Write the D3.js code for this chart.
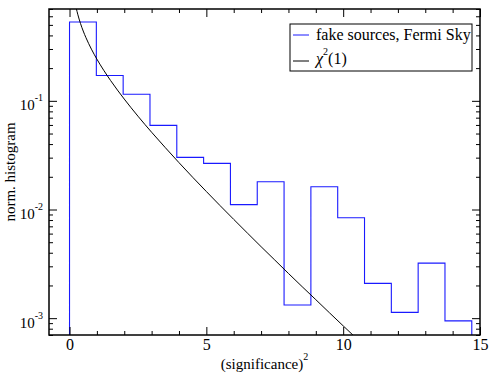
<!DOCTYPE html>
<html>
<head>
<meta charset="utf-8">
<script src="https://cdn.jsdelivr.net/npm/d3@7"></script>
<style>
  body { margin: 0; background: #fff; }
  svg { display: block; }
  svg text { font-family: "Liberation Serif", "Times New Roman", Times, "DejaVu Serif", serif; fill: #000; }
</style>
</head>
<body>
<svg id="chart" width="491" height="379"></svg>
<script>
// histogram bins (left edges + final right edge) and normalised counts
var binEdges = [0, 0.98, 1.96, 2.94, 3.92, 4.9, 5.88, 6.86, 7.84, 8.82, 9.8, 10.78, 11.76, 12.74, 13.72, 14.7];
var binValues = [0.532, 0.171, 0.115, 0.0594, 0.0302, 0.0266, 0.0111, 0.0180, 0.00132, 0.0162, 0.0084, 0.00209, 0.00113, 0.00321, 0.000944];

// chi^2(1) curve, sampled
var curveX = [0.2, 0.25, 0.3, 0.4, 0.5, 0.6, 0.8, 1, 1.25, 1.5, 2, 2.5, 3, 3.5, 4, 4.5, 5, 5.5, 6, 6.5, 7, 7.5, 8, 8.5, 9, 9.5, 10, 10.5];
var curveY = [0.807, 0.704, 0.627, 0.516, 0.439, 0.3815, 0.299, 0.242, 0.191, 0.1539, 0.1038, 0.0723, 0.0514, 0.0371, 0.0270, 0.0198, 0.01464, 0.01087, 0.00811, 0.00607, 0.00455, 0.00343, 0.00258, 0.00195, 0.00148, 0.00112, 0.00085, 0.000646];

var xMajor = [0, 5, 10, 15];
var xMinor = [1, 2, 3, 4, 6, 7, 8, 9, 11, 12, 13, 14];
var yMajor = [0.1, 0.01, 0.001];
var yExp = ['-1', '-2', '-3'];

var legendLabels = ['fake sources, Fermi Sky', 'χ'];

var svg = d3.select('#chart');
var width = 491, height = 379;
var margins = { top: 9, right: 11, bottom: 44, left: 49 };
var plotL = margins.left, plotR = width - margins.right;
var plotT = margins.top, plotB = height - margins.bottom;

var x = d3.scaleLinear().domain([-0.75, 15]).range([plotL, plotR]);
var y = d3.scaleLog().domain([7e-4, 0.7]).range([plotB, plotT]);

var yMinor = y.ticks().filter(function(v) {
  return yMajor.every(function(m) { return Math.abs(v / m - 1) > 1e-6; });
});

svg.append('defs').append('clipPath').attr('id', 'plotclip')
  .append('rect')
  .attr('x', plotL).attr('y', plotT)
  .attr('width', plotR - plotL).attr('height', plotB - plotT);

// histogram
var pts = [[binEdges[0], y.domain()[0]]];
binValues.forEach(function(v, i) {
  pts.push([binEdges[i], v]);
  pts.push([binEdges[i + 1], v]);
});
pts.push([binEdges[binEdges.length - 1], y.domain()[0]]);

var line = d3.line()
  .x(function(d) { return x(d[0]); })
  .y(function(d) { return y(d[1]); });

svg.append('path')
  .datum(pts)
  .attr('clip-path', 'url(#plotclip)')
  .attr('d', line)
  .attr('fill', 'none')
  .attr('stroke', '#1a1aff')
  .attr('stroke-width', 1.1);

// chi2 curve
var curvePts = curveX.map(function(v, i) { return [v, curveY[i]]; });
svg.append('path')
  .datum(curvePts)
  .attr('clip-path', 'url(#plotclip)')
  .attr('d', line.curve(d3.curveMonotoneX))
  .attr('fill', 'none')
  .attr('stroke', '#000')
  .attr('stroke-width', 1);

// axes: ticks pointing inward on all four sides
function styleAxis(g) {
  g.select('.domain').remove();
  g.attr('font-family', null);
  g.selectAll('.tick line').attr('stroke', '#000').attr('stroke-width', 1);
}

svg.append('g')
  .attr('transform', 'translate(0,' + plotB + ')')
  .call(d3.axisBottom(x).tickValues(xMajor).tickSize(-8).tickPadding(4).tickFormat(d3.format('d')))
  .call(styleAxis)
  .selectAll('text')
  .attr('font-size', '16px');

svg.append('g')
  .attr('transform', 'translate(0,' + plotB + ')')
  .call(d3.axisBottom(x).tickValues(xMinor).tickSize(-4).tickFormat(''))
  .call(styleAxis);

svg.append('g')
  .attr('transform', 'translate(0,' + plotT + ')')
  .call(d3.axisTop(x).tickValues(xMajor).tickSize(-8).tickFormat(''))
  .call(styleAxis);

svg.append('g')
  .attr('transform', 'translate(0,' + plotT + ')')
  .call(d3.axisTop(x).tickValues(xMinor).tickSize(-4).tickFormat(''))
  .call(styleAxis);

var yAxisG = svg.append('g')
  .attr('transform', 'translate(' + plotL + ',0)')
  .call(d3.axisLeft(y).tickValues(yMajor).tickSize(-8).tickPadding(6))
  .call(styleAxis);

yAxisG.selectAll('.tick text')
  .text('')
  .attr('font-size', '15px')
  .attr('dy', '0.6em')
  .each(function(d, i) {
    var t = d3.select(this);
    t.append('tspan').text('10');
    t.append('tspan').attr('font-size', '10px').attr('dy', '-0.9em').text(yExp[i]);
  });

svg.append('g')
  .attr('transform', 'translate(' + plotL + ',0)')
  .call(d3.axisLeft(y).tickValues(yMinor).tickSize(-4).tickFormat(''))
  .call(styleAxis);

svg.append('g')
  .attr('transform', 'translate(' + plotR + ',0)')
  .call(d3.axisRight(y).tickValues(yMajor).tickSize(-8).tickFormat(''))
  .call(styleAxis);

svg.append('g')
  .attr('transform', 'translate(' + plotR + ',0)')
  .call(d3.axisRight(y).tickValues(yMinor).tickSize(-4).tickFormat(''))
  .call(styleAxis);

// frame
svg.append('rect')
  .attr('x', plotL).attr('y', plotT)
  .attr('width', plotR - plotL).attr('height', plotB - plotT)
  .attr('fill', 'none')
  .attr('stroke', '#000')
  .attr('stroke-width', 1.5);

// axis titles
var xt = svg.append('text')
  .attr('x', (plotL + plotR) / 2)
  .attr('y', 369)
  .attr('text-anchor', 'middle')
  .attr('font-size', '15px');
xt.append('tspan').text('(significance)');
xt.append('tspan').attr('font-size', '10px').attr('dy', '-0.9em').text('2');

svg.append('text')
  .attr('transform', 'translate(15,' + ((plotT + plotB) / 2) + ') rotate(-90)')
  .attr('text-anchor', 'middle')
  .attr('font-size', '15px')
  .text('norm. histogram');

// legend
var lg = svg.append('g').attr('transform', 'translate(290,24)');
lg.append('rect')
  .attr('width', 182).attr('height', 47)
  .attr('fill', '#fff')
  .attr('stroke', '#000')
  .attr('stroke-width', 1);

lg.append('line')
  .attr('x1', 3).attr('x2', 19).attr('y1', 11).attr('y2', 11)
  .attr('stroke', '#1a1aff').attr('stroke-width', 1);
lg.append('text')
  .attr('x', 26).attr('y', 16)
  .attr('font-size', '16px')
  .text(legendLabels[0]);

lg.append('line')
  .attr('x1', 3).attr('x2', 19).attr('y1', 37).attr('y2', 37)
  .attr('stroke', '#000').attr('stroke-width', 1);
var lt = lg.append('text')
  .attr('x', 26).attr('y', 40)
  .attr('font-size', '16px');
lt.append('tspan').attr('font-style', 'italic').text(legendLabels[1]);
lt.append('tspan').attr('font-size', '10px').attr('dy', -9).text('2');
lt.append('tspan').attr('dy', 9).text('(1)');
</script>
</body>
</html>
